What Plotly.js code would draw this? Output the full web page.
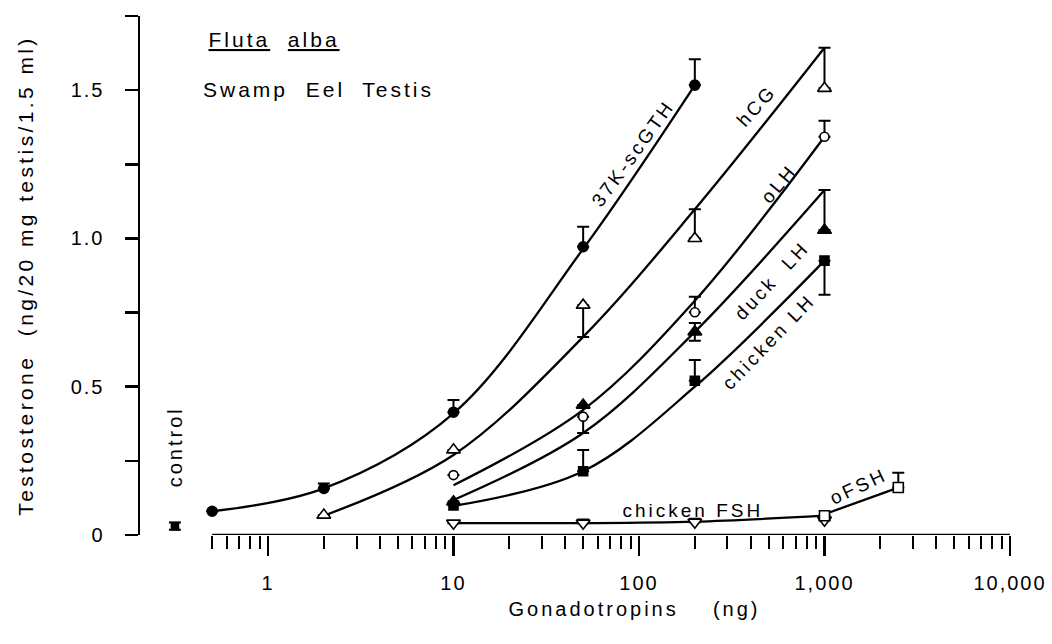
<!DOCTYPE html>
<html><head><meta charset="utf-8">
<script src="https://cdn.plot.ly/plotly-3.0.1.min.js"></script>
<style>
html,body{margin:0;padding:0;background:#fff}
#chart{width:1052px;height:644px}
#chart svg text{letter-spacing:2px}
#chart svg .ytitle{letter-spacing:3.4px}
#chart svg .annotation-text{letter-spacing:3px}
</style></head><body><div id="chart"></div>
<script>
// ---- data (dose in ng, testosterone in ng/20 mg testis/1.5 ml) ----
const dose37K   = [0.5, 2, 10, 50, 200];
const val37K    = [0.08, 0.157, 0.414, 0.972, 1.517];
const errUp37K  = [0, 0.017, 0.041, 0.067, 0.087];
const fit37K    = [0.08, 0.157, 0.41, 0.965, 1.517];

const doseHCG    = [2, 10, 50, 200, 1000];
const valHCG     = [0.067, 0.287, 0.775, 1.0, 1.506];
const errUpHCG   = [0, 0, 0, 0.098, 0.137];
const errDownHCG = [0, 0, 0.107, 0, 0];
const fitHCG     = [0.065, 0.27, 0.668, 1.098, 1.643];

const doseOLH    = [10, 50, 200, 1000];
const valOLH     = [0.202, 0.399, 0.751, 1.343];
const errUpOLH   = [0, 0, 0.052, 0.054];
const errDownOLH = [0, 0.055, 0, 0];
const fitOLH     = [0.168, 0.422, 0.79, 1.343];

const doseDuck    = [10, 50, 200, 1000];
const valDuck     = [0.112, 0.438, 0.685, 1.028];
const errUpDuck   = [0, 0, 0.03, 0.135];
const errDownDuck = [0, 0, 0.03, 0];
const fitDuck     = [0.118, 0.344, 0.685, 1.163];

const doseChLH    = [10, 50, 200, 1000];
const valChLH     = [0.10, 0.215, 0.52, 0.925];
const errUpChLH   = [0, 0.072, 0.07, 0];
const errDownChLH = [0, 0, 0, 0.115];
const fitChLH     = [0.098, 0.215, 0.50, 0.925];

const doseChFSH  = [10, 50, 200, 1000];
const valChFSH   = [0.04, 0.04, 0.043, 0.05];
const errUpChFSH = [0, 0.012, 0.012, 0.012];
const fitChFSH   = [0.04, 0.04, 0.045, 0.065];

const doseOFSH   = [1000, 2500];
const valOFSH    = [0.065, 0.16];
const errUpOFSH  = [0, 0.05];
const fitOFSH    = [0.07, 0.16];

const doseControl = [0.315];
const valControl  = [0.03];
const errControl  = [0.012];

const xTickVals   = [1, 10, 100, 1000, 10000];
const xTickText   = ['1', '10', '100', '1,000', '10,000'];
const xMinorTicks = [0.5,0.6,0.7,0.8,0.9, 2,3,4,5,6,7,8,9, 20,30,40,50,60,70,80,90,
                     200,300,400,500,600,700,800,900, 2000,3000,4000,5000,6000,7000,8000,9000];
const yTickVals = [0, 0.25, 0.5, 0.75, 1.0, 1.25, 1.5, 1.75];
const yTickText = ['0', '', '0.5', '', '1.0', '', '1.5', ''];

// ---- traces ----
const lineStyle = {color: 'black', width: 2.3, shape: 'spline', smoothing: 1};
function fitLine(x, y) {
  return {x: x, y: y, type: 'scatter', mode: 'lines', line: lineStyle,
          hoverinfo: 'skip', showlegend: false, cliponaxis: false};
}
function pts(name, x, y, up, down, symbol, size, fill) {
  return {
    name: name, x: x, y: y, type: 'scatter', mode: 'markers', showlegend: false, cliponaxis: false,
    marker: {symbol: symbol, size: size, color: fill, line: {color: 'black', width: 1.6}},
    error_y: {type: 'data', symmetric: false, array: up, arrayminus: down || up.map(() => 0),
              color: 'black', thickness: 2, width: 6}
  };
}

const data = [
  fitLine(dose37K, fit37K),
  fitLine(doseHCG, fitHCG),
  fitLine(doseOLH, fitOLH),
  fitLine(doseDuck, fitDuck),
  fitLine(doseChLH, fitChLH),
  fitLine(doseChFSH, fitChFSH),
  fitLine(doseOFSH, fitOFSH),
  pts('37K-scGTH', dose37K, val37K, errUp37K, null, 'circle', 10, 'black'),
  pts('hCG', doseHCG, valHCG, errUpHCG, errDownHCG, 'triangle-up', 12, 'white'),
  pts('oLH', doseOLH, valOLH, errUpOLH, errDownOLH, 'circle', 9, 'white'),
  pts('duck LH', doseDuck, valDuck, errUpDuck, errDownDuck, 'triangle-up', 12, 'black'),
  pts('chicken LH', doseChLH, valChLH, errUpChLH, errDownChLH, 'square', 9, 'black'),
  pts('chicken FSH', doseChFSH, valChFSH, errUpChFSH, null, 'triangle-down', 12, 'white'),
  pts('oFSH', doseOFSH, valOFSH, errUpOFSH, null, 'square', 10, 'white'),
  pts('control', doseControl, valControl, errControl, errControl, 'square', 7, 'black')
];

const labelFont = {family: 'Liberation Sans, Arial, sans-serif', size: 19, color: 'black'};
function lab(text, x, y, angle, extra) {
  return Object.assign({text: text, xref: 'paper', yref: 'paper', x: x, y: y,
    xanchor: 'center', yanchor: 'middle', showarrow: false, textangle: angle, font: labelFont}, extra || {});
}
function sized(s) { return Object.assign({}, labelFont, {size: s}); }

const layout = {
  width: 1052, height: 644,
  margin: {l: 140, r: 32, t: 16, b: 109},
  paper_bgcolor: 'white', plot_bgcolor: 'white', showlegend: false,
  font: {family: 'Liberation Sans, Arial, sans-serif', color: 'black', size: 20},
  xaxis: {
    type: 'log', range: [-0.690, 4.054], showline: false, showgrid: false, zeroline: false,
    tickmode: 'array', tickvals: xTickVals, ticktext: xTickText,
    ticks: 'outside', ticklen: 20, tickwidth: 2.5, tickcolor: 'black',
    ticklabelstandoff: 10, tickfont: {size: 20},
    minor: {tickmode: 'array', tickvals: xMinorTicks, ticks: 'outside', ticklen: 13,
            tickwidth: 2, tickcolor: 'black', showgrid: false}
  },
  yaxis: {
    range: [0, 1.75], showline: true, linecolor: 'black', linewidth: 2.5,
    showgrid: false, zeroline: false,
    tickmode: 'array', tickvals: yTickVals, ticktext: yTickText,
    ticks: 'outside', ticklen: 13, tickwidth: 2.5, tickcolor: 'black',
    ticklabelstandoff: 16, tickfont: {size: 20},
    title: {text: 'Testosterone  (ng/20 mg testis/1.5 ml)', font: {size: 21}, standoff: 38}
  },
  shapes: [
    {type: 'line', xref: 'x', yref: 'y', x0: 0.5, x1: 10000, y0: 0, y1: 0,
     line: {color: 'black', width: 2.5}}
  ],
  annotations: [
    lab('<u>Fluta</u>  <u>alba</u>', 0.094, 0.954, 0, {xanchor: 'left', font: sized(21)}),
    lab('Swamp  Eel  Testis', 0.0995, 0.859, 0, {xanchor: 'left', font: sized(21)}),
    lab('37K-scGTH', 0.560, 0.736, -54),
    lab('hCG', 0.701, 0.827, -48),
    lab('oLH', 0.726, 0.678, -50),
    lab('duck  LH', 0.718, 0.491, -47),
    lab('chicken LH', 0.715, 0.372, -46),
    lab('chicken FSH', 0.628, 0.048, 0),
    lab('oFSH', 0.816, 0.094, -25),
    lab('control', 0.0398, 0.170, -90, {font: sized(20)}),
    lab('Gonadotropins    (ng)', 0.562, -0.1426, 0, {font: sized(20)})
  ]
};

Plotly.newPlot('chart', data, layout, {staticPlot: true, displayModeBar: false});
</script></body></html>
